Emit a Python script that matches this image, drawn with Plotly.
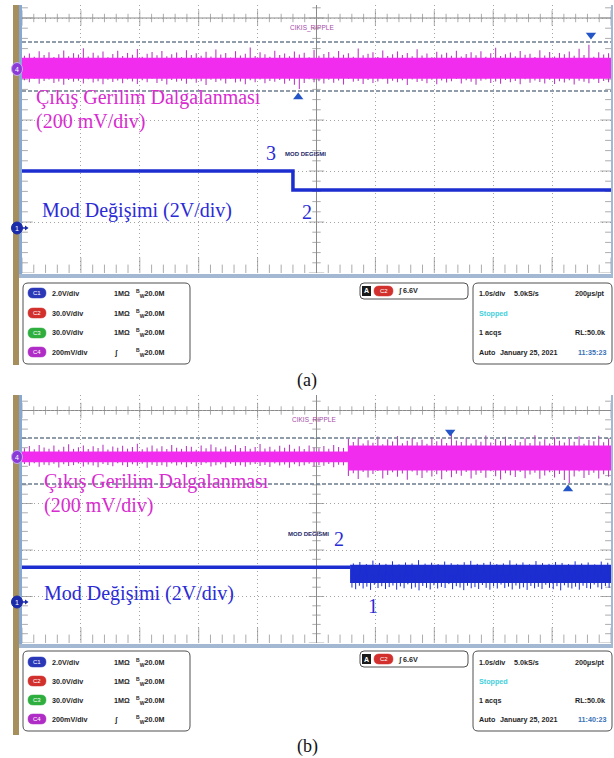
import plotly.graph_objects as go

W, H = 614, 758

# ---------------- data ----------------
# time axis: 1 s/div, 10 div, centre = 0 s
time_span = [-5.0, 5.0]

# Channel 4 ripple (mV), panel (a)
ripple_a_core_t = [-5.0, 5.0]
ripple_a_core_hi = [44, 44]
ripple_a_core_lo = [-38, -38]
ripple_a_up = [52, 61, 48, 70, 55, 66, 47, 58, 73, 50,
               62, 57, 81, 49, 64, 53, 69, 46, 59, 72,
               51, 63, 56, 78, 48, 60, 67, 54, 71, 50,
               58, 65, 47, 74, 55, 62, 52, 68, 49, 76,
               57, 63, 45, 70, 53, 60, 84, 51, 66, 58,
               48, 72, 55, 61, 50, 69, 57, 64, 46, 75,
               52, 59, 67, 49, 71, 56, 62, 48, 80, 54,
               60, 66, 47, 73, 51, 58, 69, 55, 63, 50,
               77, 53, 61, 46, 68, 57, 64, 52, 72, 49,
               59, 66, 54, 70, 48, 62, 83, 51, 58, 65,
               50, 71, 56, 60, 47, 74, 53, 67, 49, 63,
               58, 69, 52, 79, 55, 95, 48, 66, 57, 62]
ripple_a_dn = [-44, -52, -39, -58, -47, -41, -55, -49, -62, -43,
               -50, -46, -57, -40, -53, -48, -60, -42, -51, -45,
               -56, -41, -49, -59, -44, -52, -38, -55, -47, -61,
               -43, -50, -46, -58, -40, -54, -48, -63, -42, -51,
               -45, -57, -39, -53, -49, -60, -44, -52, -41, -56,
               -47, -50, -43, -58, -46, -62, -78, -55, -40, -52,
               -48, -57, -42, -54, -45, -61, -39, -50, -47, -59,
               -43, -55, -49, -40, -58, -46, -52, -44, -63, -41,
               -51, -47, -56, -42, -60, -45, -53, -48, -39, -57,
               -44, -50, -62, -46, -41, -55, -49, -58, -43, -52,
               -47, -60, -40, -54, -45, -51, -57, -42, -59, -48,
               -53, -44, -61, -46, -50, -56, -41, -55, -47, -52]

# Channel 4 ripple (mV), panel (b)
ripple_b_core_t = [-5.0, 0.535, 0.535, 5.0]
ripple_b_core_hi = [24, 24, 50, 50]
ripple_b_core_lo = [-23, -23, -58, -58]
ripple_b_up = [38, 47, 33, 52, 41, 36, 49, 31, 44, 55,
               35, 42, 50, 34, 46, 39, 53, 32, 45, 40,
               48, 36, 43, 57, 33, 41, 50, 37, 46, 34,
               52, 40, 35, 47, 44, 31, 49, 38, 54, 42,
               36, 45, 33, 51, 39, 47, 35, 43, 56, 37,
               44, 32, 48, 40, 53, 36, 46, 34, 50, 41,
               38, 47, 35, 52, 43, 39, 78, 64, 85, 58,
               72, 61, 88, 55, 76, 67, 90, 59, 70, 82,
               63, 74, 57, 86, 68, 79, 60, 105, 71, 65,
               83, 58, 75, 66, 92, 62, 77, 69, 87, 56,
               73, 64, 81, 60, 94, 67, 76, 58, 85, 70,
               62, 79, 66, 89, 57, 74, 68, 91, 63, 77]
ripple_b_dn = [-30, -38, -27, -42, -33, -36, -29, -45, -31, -39,
               -35, -28, -41, -32, -37, -44, -30, -34, -40, -27,
               -36, -43, -31, -38, -29, -46, -33, -39, -35, -42,
               -28, -37, -32, -44, -30, -40, -34, -27, -41, -36,
               -31, -45, -29, -38, -35, -42, -33, -30, -39, -34,
               -43, -28, -37, -32, -46, -31, -40, -36, -29, -41,
               -34, -38, -30, -44, -33, -36, -82, -70, -95, -64,
               -88, -73, -60, -92, -77, -66, -85, -71, -98, -62,
               -79, -90, -67, -84, -74, -96, -63, -87, -72, -81,
               -65, -93, -76, -69, -89, -61, -83, -97, -70, -78,
               -86, -64, -91, -75, -68, -94, -80, -66, -88, -73,
               -99, -112, -84, -62, -90, -77, -68, -92, -74, -85]

# ripple cursors (mV) and cursor markers
cursor_a = [106, -86]
cursor_b = [82, -116]
cmark_a_t = [4.66, -0.31]
cmark_a_v = [133, -110]
cmark_b_t = [2.27, 4.27]
cmark_b_v = [108, -138]

# Channel 1 mode signal (V)
mode_a_t = [-5.0, -0.40, -0.40, 5.0]
mode_a_v = [2.24, 2.24, 1.49, 1.49]
mode_b_t = [-5.0, 0.57]
mode_b_v = [1.50, 1.50]
mode_b_band_t = [0.57, 5.0]
mode_b_band_hi = [1.60, 1.60]
mode_b_band_lo = [0.82, 0.82]
mode_b_dn = [0.62, 0.55, 0.70, 0.58, 0.66, 0.52, 0.74, 0.60, 0.68, 0.56,
             0.64, 0.71, 0.53, 0.67, 0.59, 0.76, 0.57, 0.63, 0.50, 0.69,
             0.61, 0.54, 0.72, 0.58, 0.65, 0.60, 0.77, 0.55, 0.68, 0.62,
             0.51, 0.70, 0.59, 0.64, 0.56, 0.73, 0.61, 0.53, 0.67, 0.58,
             0.75, 0.60, 0.66, 0.54, 0.71, 0.57, 0.63, 0.52, 0.69, 0.59,
             0.65, 0.56, 0.74, 0.61, 0.55, 0.68, 0.50, 0.72, 0.62, 0.58,
             0.66, 0.53, 0.70, 0.60, 0.57, 0.75, 0.63, 0.55, 0.69, 0.61]
mode_b_up = [1.66, 1.72, 1.63, 1.78, 1.68, 1.64, 1.75, 1.62, 1.70, 1.66,
             1.80, 1.65, 1.69, 1.63, 1.74, 1.67, 1.62, 1.71, 1.77, 1.64,
             1.68, 1.73, 1.63, 1.66, 1.79, 1.65, 1.70, 1.62, 1.76, 1.67,
             1.64, 1.72, 1.68, 1.63, 1.75, 1.66, 1.70, 1.62, 1.74, 1.69]

# status panel texts
ch_names = ['C1', 'C2', 'C3', 'C4']
ch_scales = ['2.0V/div', '30.0V/div', '30.0V/div', '200mV/div']
ch_colors = ['#2a38b8', '#d2302c', '#2eae3e', '#b02cc6']
ch_coupling = ['1MΩ', '1MΩ', '1MΩ', 'ʃ']
ch_bw = '20.0M'
trig_level = '6.6V'
timebase = ['1.0s/div', '5.0kS/s', '200µs/pt']
acq_state = 'Stopped'
acqs = '1 acqs'
rec_len = 'RL:50.0k'
trig_mode = 'Auto'
date_str = 'January 25, 2021'
times = ['11:35:23', '11:40:23']

# ---------------- helpers ----------------
def PX(x):
    return x / W


def PY(y):
    return 1 - y / H


SERIF = 'Liberation Serif, Times New Roman, serif'
NARROW = 'Liberation Sans Narrow, Arial Narrow, Liberation Sans, sans-serif'
GRID = '#a4a4a4'
TICK = '#8a8a8a'
BLUE_TR = '#1c2ed0'
MAG_FILL = '#f22cee'
MAG_SPIKE = '#bb3cc4'
BLUE_TXT = '#2b2bd6'
MAG_TXT = '#d82ccf'

fig = go.Figure()
shapes = []
annots = []


def spike_xy(t0, t1, vals, base):
    xs, ys = [], []
    n = len(vals)
    for i, v in enumerate(vals):
        t = t0 + (i + 0.5) * (t1 - t0) / n
        xs += [t, t, None]
        ys += [base, v, None]
    return xs, ys


def line_tr(x, y, xa, ya, color, width):
    fig.add_trace(go.Scatter(x=x, y=y, mode='lines', xaxis=xa, yaxis=ya,
                             line=dict(color=color, width=width),
                             hoverinfo='skip', showlegend=False))


def fill_tr(t, hi, lo, xa, ya, color):
    fig.add_trace(go.Scatter(x=list(t) + list(t)[::-1], y=list(hi) + list(lo)[::-1],
                             mode='lines', fill='toself', fillcolor=color,
                             line=dict(width=0), xaxis=xa, yaxis=ya,
                             hoverinfo='skip', showlegend=False))


def tick_tr(x, y, sizes, symbol, xa, ya):
    fig.add_trace(go.Scatter(x=x, y=y, mode='markers', xaxis=xa, yaxis=ya,
                             marker=dict(symbol=symbol, size=sizes,
                                         line=dict(color=TICK, width=1)),
                             hoverinfo='skip', showlegend=False))


def text(x, y, s, size, color, family, xanchor='left', bold=False):
    if bold:
        s = '<b>' + s + '</b>'
    annots.append(dict(x=PX(x), y=PY(y), xref='paper', yref='paper', text=s,
                       showarrow=False, xanchor=xanchor, yanchor='middle',
                       font=dict(size=size, color=color, family=family)))


def rect(x0, y0, x1, y1, fill, line=None, width=0, layer='above'):
    shapes.append(dict(type='rect', xref='paper', yref='paper',
                       x0=PX(x0), x1=PX(x1), y0=PY(y1), y1=PY(y0),
                       fillcolor=fill, line=dict(color=line or fill, width=width),
                       layer=layer))


def rrect(x0, y0, x1, y1, r, fill=None, line='#505050', width=1):
    p = ('M {a},{b} L {c},{b} Q {d},{b} {d},{e} L {d},{f} Q {d},{g} {c},{g} '
         'L {a},{g} Q {h},{g} {h},{f} L {h},{e} Q {h},{b} {a},{b} Z').format(
        a=PX(x0 + r), b=PY(y0), c=PX(x1 - r), d=PX(x1), e=PY(y0 + r),
        f=PY(y1 - r), g=PY(y1), h=PX(x0))
    shapes.append(dict(type='path', xref='paper', yref='paper', path=p,
                       fillcolor=fill or 'rgba(0,0,0,0)',
                       line=dict(color=line, width=width), layer='above'))


# ---------------- panel geometry ----------------
panels = [
    dict(xa='x', ya='y', ya2='y2', top=5, bot=273, z4=69, z1=228, div=51.0),
    dict(xa='x2', ya='y3', ya2='y4', top=395, bot=643, z4=457, z1=602, div=46.5),
]
for p in panels:
    p['r4'] = [-(p['bot'] - p['z4']) * 200 / p['div'], (p['z4'] - p['top']) * 200 / p['div']]
    p['r1'] = [-(p['bot'] - p['z1']) * 2 / p['div'], (p['z1'] - p['top']) * 2 / p['div']]

# graticule ticks
for p in panels:
    xa, ya = p['xa'], p['ya']
    xs = [time_span[0] + 0.2 * k for k in range(51)]
    xsz = [11 if k % 5 == 0 else 6 for k in range(51)]
    ys = []
    k = 0
    while p['r4'][0] + 40 * k <= p['r4'][1] + 1e-6:
        ys.append(p['r4'][0] + 40 * k)
        k += 1
    ysz = [11 if (v % 200 == 0) else 6 for v in ys]
    shapes.append(dict(type='line', xref=xa, yref=ya, x0=-5, x1=5, y0=200, y1=200,
                       line=dict(color=TICK, width=1), layer='below'))
    tick_tr(xs, [200] * len(xs), xsz, 'line-ns', xa, ya)
    tick_tr([0] * len(ys), ys, ysz, 'line-ew', xa, ya)
    tick_tr(xs, [p['r4'][0]] * len(xs), [s * 2 for s in xsz], 'line-ns', xa, ya)
    tick_tr([-5] * len(ys), ys, [s * 1.4 for s in ysz], 'line-ew', xa, ya)
    tick_tr([5] * len(ys), ys, [s * 1.4 for s in ysz], 'line-ew', xa, ya)

# ---------------- waveforms ----------------
ripples = [
    (ripple_a_core_t, ripple_a_core_hi, ripple_a_core_lo, ripple_a_up, ripple_a_dn),
    (ripple_b_core_t, ripple_b_core_hi, ripple_b_core_lo, ripple_b_up, ripple_b_dn),
]
for p, (ct, chi, clo, up, dn) in zip(panels, ripples):
    for vals in (up, dn):
        sx, sy = spike_xy(time_span[0], time_span[1], vals, 0)
        line_tr(sx, sy, p['xa'], p['ya'], MAG_SPIKE, 1.1)
    fill_tr(ct, chi, clo, p['xa'], p['ya'], MAG_FILL)

# mode (ch1) traces
line_tr(mode_a_t, mode_a_v, 'x', 'y2', BLUE_TR, 3.5)
line_tr(mode_b_t, mode_b_v, 'x2', 'y4', BLUE_TR, 3.5)
fill_tr(mode_b_band_t, mode_b_band_hi, mode_b_band_lo, 'x2', 'y4', BLUE_TR)
sx, sy = spike_xy(mode_b_band_t[0], mode_b_band_t[1], mode_b_dn, 1.2)
line_tr(sx, sy, 'x2', 'y4', BLUE_TR, 1)
sx, sy = spike_xy(mode_b_band_t[0], mode_b_band_t[1], mode_b_up, 1.2)
line_tr(sx, sy, 'x2', 'y4', BLUE_TR, 1)

# cursors
for p, cur, ct, cv in [(panels[0], cursor_a, cmark_a_t, cmark_a_v),
                       (panels[1], cursor_b, cmark_b_t, cmark_b_v)]:
    for c in cur:
        shapes.append(dict(type='line', xref=p['xa'], yref=p['ya'], x0=-5, x1=5, y0=c, y1=c,
                           line=dict(color='#6d7c8e', width=1.6, dash='4px,2px'), layer='above'))
    fig.add_trace(go.Scatter(x=ct, y=cv, mode='markers', xaxis=p['xa'], yaxis=p['ya'],
                             marker=dict(symbol=['triangle-down' if v > 0 else 'triangle-up' for v in cv],
                                         size=9, color='#2456c8'),
                             hoverinfo='skip', showlegend=False))

# ---------------- frame decoration ----------------
for top, sbot, stat_bot in [(5, 273, 365), (395, 643, 735)]:
    rect(13, top, 19, stat_bot, '#a68f5c')
    rect(19, top, 22, sbot + 4, '#86a8d4')
    rect(19, sbot + 1, 613, sbot + 5, '#a3b8d2')
    rect(611, top, 613, sbot + 4, '#a3b8d2')

# channel markers
for p in panels:
    z4, z1 = p['z4'], p['z1']
    shapes.append(dict(type='circle', xref='paper', yref='paper', x0=PX(11.5), x1=PX(22.5),
                       y0=PY(z4 + 6.5), y1=PY(z4 - 6.5), fillcolor='#8a3ad6',
                       line=dict(color='#c9a8f0', width=1), layer='above'))
    text(17, z4, '4', 7, 'white', NARROW, 'center')
    shapes.append(dict(type='circle', xref='paper', yref='paper', x0=PX(11.5), x1=PX(22.5),
                       y0=PY(z1 + 6), y1=PY(z1 - 6), fillcolor='#1a2aa8',
                       line=dict(color='#1a2aa8', width=1), layer='above'))
    text(17, z1, '1', 7, 'white', NARROW, 'center')
    shapes.append(dict(type='line', xref='paper', yref='paper', x0=PX(22), x1=PX(27),
                       y0=PY(z1), y1=PY(z1), line=dict(color='#1a2aa8', width=1.5), layer='above'))
    shapes.append(dict(type='path', xref='paper', yref='paper',
                       path='M {a},{b} L {c},{d} L {a},{e} Z'.format(a=PX(25), b=PY(z1 - 2.5), c=PX(28.5), d=PY(z1), e=PY(z1 + 2.5)),
                       fillcolor='#1a2aa8', line=dict(width=0), layer='above'))

# ---------------- labels on screen ----------------
# panel (a)
text(288, 28, 'CIKIS_RIPPLE', 6.5, '#a64aa8', NARROW)
text(34, 98, 'Çıkış Gerilim Dalgalanması', 20, MAG_TXT, SERIF)
text(34, 122, '(200 mV/div)', 20, MAG_TXT, SERIF)
text(264, 153, '3', 20, BLUE_TXT, SERIF)
text(283, 154, 'MOD DEGISMI', 6, '#1e2868', NARROW, bold=True)
text(300, 212, '2', 20, BLUE_TXT, SERIF)
text(40, 210, 'Mod Değişimi (2V/div)', 20, BLUE_TXT, SERIF)
# panel (b)
text(290, 420, 'CIKIS_RIPPLE', 6.5, '#a64aa8', NARROW)
text(42, 481, 'Çıkış Gerilim Dalgalanması', 20, MAG_TXT, SERIF)
text(42, 505, '(200 mV/div)', 20, MAG_TXT, SERIF)
text(286, 534, 'MOD DEGISMI', 6, '#1e2868', NARROW, bold=True)
text(332, 539, '2', 20, BLUE_TXT, SERIF)
text(366, 606, '1', 20, BLUE_TXT, SERIF)
text(42, 593, 'Mod Değişimi (2V/div)', 20, BLUE_TXT, SERIF)

# ---------------- status area ----------------
STAT = '#1e1e1e'
FS = 7.2
for rows, box_top, box_bot, clock in [([293, 313, 333, 352], 283, 364, times[0]),
                                      ([662, 681, 700, 719], 651, 731, times[1])]:
    rrect(23, box_top, 190, box_bot, 5)
    rrect(360, box_top, 468, box_top + 16, 4)
    rrect(473, box_top, 612, box_bot, 5)
    for i, ry in enumerate(rows):
        rrect(28, ry - 5, 46, ry + 5, 5, fill=ch_colors[i], line=ch_colors[i], width=0.5)
        text(37, ry, ch_names[i], 6, 'white', NARROW, 'center')
        text(50, ry, ch_scales[i], FS, STAT, NARROW, bold=True)
        text(112, ry, ch_coupling[i], FS, STAT, NARROW, bold=True)
        text(134, ry, '<sup>B</sup><sub>W</sub>' + ch_bw, FS, STAT, NARROW, bold=True)
    ty = box_top + 8
    rect(362, ty - 5, 371, ty + 5, '#1a1a1a')
    text(366.5, ty, 'A', 7, 'white', NARROW, 'center', bold=True)
    rrect(374, ty - 5, 393, ty + 5, 5, fill='#d2302c', line='#d2302c', width=0.5)
    text(383.5, ty, 'C2', 6, 'white', NARROW, 'center')
    text(396, ty, '∫ ' + trig_level, FS, STAT, NARROW, bold=True)
    text(477, rows[0], timebase[0], FS, STAT, NARROW, bold=True)
    text(512, rows[0], timebase[1], FS, STAT, NARROW, bold=True)
    text(607, rows[0], timebase[2], FS, STAT, NARROW, 'right', bold=True)
    text(477, rows[1], acq_state, FS, '#3fd0dc', NARROW, bold=True)
    text(477, rows[2], acqs, FS, STAT, NARROW, bold=True)
    text(607, rows[2], rec_len, FS, STAT, NARROW, 'right', bold=True)
    text(477, rows[3], trig_mode, FS, STAT, NARROW, bold=True)
    text(498, rows[3], date_str, FS, STAT, NARROW, bold=True)
    text(608, rows[3], clock, FS, '#3a72b6', NARROW, 'right', bold=True)

text(307, 380, '(a)', 18, '#111111', SERIF, 'center')
text(307, 746, '(b)', 18, '#111111', SERIF, 'center')

# ---------------- axes ----------------
def xaxis_cfg(anchor):
    return dict(range=time_span, domain=[PX(22), PX(611)], anchor=anchor,
                showticklabels=False, ticks='', showgrid=True, dtick=1, tick0=0,
                gridcolor=GRID, griddash='1px,3px', gridwidth=1,
                zeroline=True, zerolinecolor=TICK, zerolinewidth=1,
                showline=False, fixedrange=True)


def y4_cfg(p, anchor):
    return dict(range=p['r4'], domain=[PY(p['bot']), PY(p['top'])], anchor=anchor,
                showticklabels=False, ticks='', showgrid=True, dtick=200, tick0=0,
                gridcolor=GRID, griddash='1px,3px', gridwidth=1, zeroline=False,
                showline=False, fixedrange=True)


def y1_cfg(p, over, anchor):
    return dict(range=p['r1'], overlaying=over, anchor=anchor, visible=False,
                showgrid=False, zeroline=False, fixedrange=True)


fig.update_layout(
    width=W, height=H, margin=dict(l=0, r=0, t=0, b=0),
    paper_bgcolor='white', plot_bgcolor='white', showlegend=False,
    xaxis=xaxis_cfg('y'), xaxis2=xaxis_cfg('y3'),
    yaxis=y4_cfg(panels[0], 'x'), yaxis2=y1_cfg(panels[0], 'y', 'x'),
    yaxis3=y4_cfg(panels[1], 'x2'), yaxis4=y1_cfg(panels[1], 'y3', 'x2'),
    shapes=shapes, annotations=annots,
)

fig.write_html('out.html')
